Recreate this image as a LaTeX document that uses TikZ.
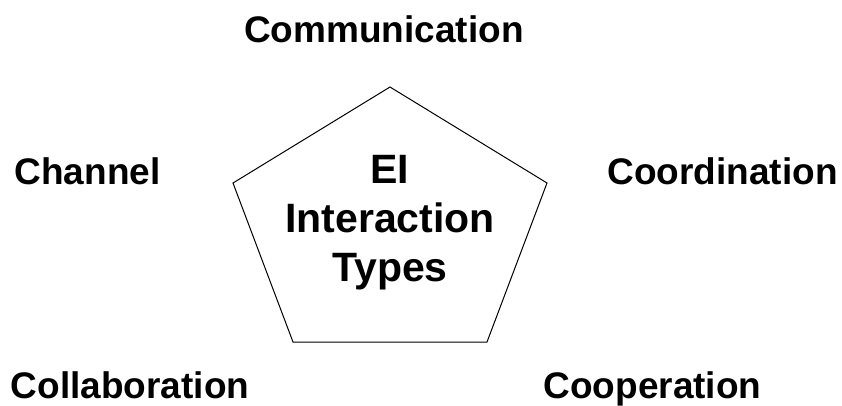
\documentclass[tikz,border=0pt]{standalone}
\usepackage{fontspec}
\setmainfont{Liberation Sans}
\begin{document}
\begin{tikzpicture}[x=1bp,y=-1bp,
  outer/.style={inner sep=0pt,anchor=base,font=\fontsize{37bp}{44bp}\selectfont\bfseries},
  centre/.style={inner sep=0pt,anchor=base,align=center,
    font=\fontsize{41bp}{49bp}\selectfont\bfseries},
  edge/.style={draw=black,line width=1bp,line join=miter}]
\useasboundingbox (0,0) rectangle (842,405);
% pentagon corners
\coordinate (pt) at (390,87);
\coordinate (pr) at (547,183);
\coordinate (pbr) at (487,342);
\coordinate (pbl) at (293,342);
\coordinate (pl) at (233,183);
\draw[edge] (pt) -- (pr) -- (pbr) -- (pbl) -- (pl) -- cycle;
% title inside the pentagon (base anchor sits on the last line)
\node[centre] (types) at (390,281) {EI\\Interaction\\Types};
% the five interaction types around it
\node[outer] (comm) at (384,42) {Communication};
\node[outer] (chan) at (87.5,184) {Channel};
\node[outer] (coord) at (722.5,184) {Coordination};
\node[outer] (collab) at (130,398) {Collaboration};
\node[outer] (coop) at (652.5,398) {Cooperation};
\end{tikzpicture}
\end{document}
